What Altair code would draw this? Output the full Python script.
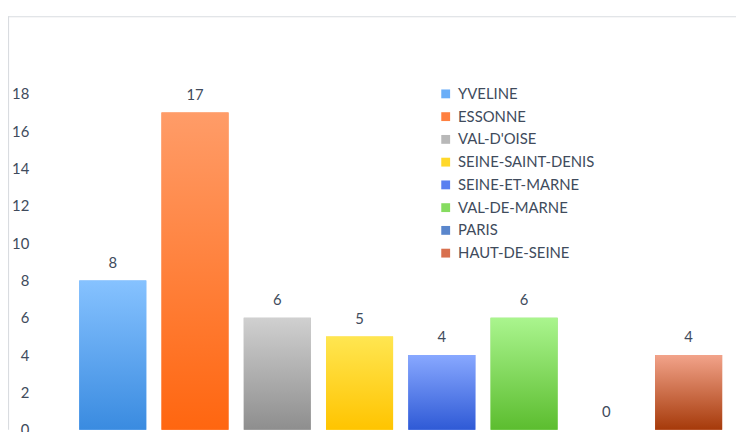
import altair as alt
import pandas as pd

categories = ["YVELINE", "ESSONNE", "VAL-D'OISE", "SEINE-SAINT-DENIS",
              "SEINE-ET-MARNE", "VAL-DE-MARNE", "PARIS", "HAUT-DE-SEINE"]
values = [8, 17, 6, 5, 4, 6, 0, 4]
y_ticks = [0, 2, 4, 6, 8, 10, 12, 14, 16, 18]

top_colors = ["#86C2FF", "#FF9C68", "#D0D0D0", "#FFE651",
              "#88A8FF", "#AAF58E", "#6A9BE0", "#F2A38A"]
bottom_colors = ["#3A8BE0", "#FF6610", "#8E8E8E", "#FFC400",
                 "#2F5AD6", "#5CBD2F", "#2B5BA8", "#A63A0A"]
legend_colors = ["#6AAEF8", "#FF8040", "#B8B8B8", "#FFD82A",
                 "#5A80F0", "#86DC60", "#5A86CC", "#D8704E"]

TEXT = "#404B5C"
FONT = "Lato"
W, H = 736, 418

df = pd.DataFrame({"dept": categories, "count": values})

x_enc = alt.X("dept:N", sort=categories, axis=None,
              scale=alt.Scale(range=[72, 722], paddingInner=0.185, paddingOuter=0))
y_scale = alt.Scale(domain=[0, 22.16], nice=False, zero=False)
y_axis = alt.Axis(values=y_ticks, grid=False, domain=False, ticks=False, tickSize=0,
                  labelPadding=-21, labelAlign="right", labelBaseline="middle",
                  labelFont=FONT, labelFontSize=15, labelColor=TEXT, title=None)

base = alt.Chart(df)

legend_bars = base.mark_bar().encode(
    x=x_enc,
    y=alt.Y("count:Q", scale=y_scale, axis=y_axis),
    color=alt.Color("dept:N", sort=categories,
                    scale=alt.Scale(domain=categories, range=legend_colors),
                    legend=alt.Legend(orient="none", legendX=435, legendY=71, title=None,
                                      labelFont=FONT, labelFontSize=15, labelColor=TEXT,
                                      symbolType="square", symbolSize=80,
                                      symbolStrokeWidth=0, rowPadding=7, labelOffset=5)),
)

layers = [legend_bars]
for cat, top, bot in zip(categories, top_colors, bottom_colors):
    grad = alt.LinearGradient(gradient="linear",
                              stops=[alt.GradientStop(color=top, offset=0),
                                     alt.GradientStop(color=bot, offset=1)],
                              x1=0, x2=0, y1=0, y2=1)
    layers.append(
        base.transform_filter(alt.FieldEqualPredicate(field="dept", equal=cat))
        .mark_bar(color=grad)
        .encode(x=x_enc, y=alt.Y("count:Q", scale=y_scale))
    )

labels = base.mark_text(font=FONT, fontSize=15, color=TEXT, baseline="alphabetic", dy=-13).encode(
    x=x_enc, y=alt.Y("count:Q", scale=y_scale), text="count:Q"
)
layers.append(labels)

frame = alt.Chart(pd.DataFrame({"k": [0]}))
top_rule = frame.mark_rule(color="#D9DCE0", strokeWidth=1.2).encode(
    x=alt.value(0), x2=alt.value(W), y=alt.value(0.5))
left_rule = frame.mark_rule(color="#D9DCE0", strokeWidth=1.2).encode(
    x=alt.value(0.5), y=alt.value(0), y2=alt.value(H))
layers += [top_rule, left_rule]

chart = alt.layer(*layers).properties(
    width=W, height=H,
    autosize=alt.AutoSizeParams(type="none"),
    padding={"left": 0, "top": 6, "right": 0, "bottom": 0},
).configure_view(stroke=None)

chart.save("out.html", embed_options={"renderer": "svg", "actions": False})
